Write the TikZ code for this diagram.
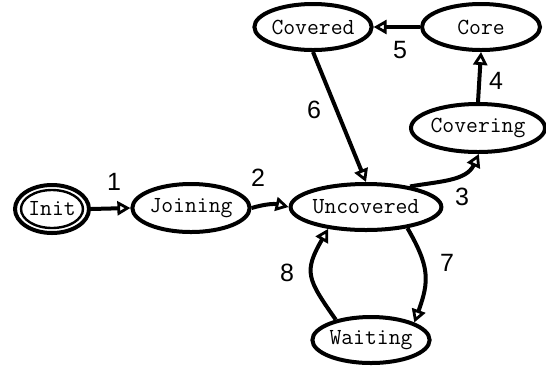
\documentclass[tikz,border=0pt]{standalone}
\usepackage{fontspec}
\setmainfont{Liberation Sans}
\usetikzlibrary{shapes.geometric,arrows.meta}
\begin{document}
\begin{tikzpicture}[x=1pt,y=-1pt,
  state/.style={ellipse,draw,line width=4pt,inner sep=0pt,font=\ttfamily\fontsize{23}{27}\selectfont},
  conn/.style={line width=4pt,-{Triangle[open,length=13pt,width=14pt,line width=2.8pt]}},
  lab/.style={font=\fontsize{25}{30}\selectfont}]
\useasboundingbox (0,0) rectangle (546,368);
\node[state,minimum width=74pt,minimum height=48pt] (init) at (52,209) {Init};
\draw[line width=2.4pt] (52,209) ellipse [x radius=31pt,y radius=19pt];
\node[state,minimum width=92pt,minimum height=48pt] (join) at (191,208) {Joining};
\node[state,minimum width=138pt,minimum height=46pt] (unc) at (366,207) {Uncovered};
\node[state,minimum width=116pt,minimum height=46pt] (cov) at (313,27) {Covered};
\node[state,minimum width=118pt,minimum height=46pt] (core) at (481,27) {Core};
\node[state,minimum width=112pt,minimum height=48pt] (cvg) at (478,128) {Covering};
\node[state,minimum width=112pt,minimum height=46pt] (wait) at (371,340) {Waiting};
\draw[conn] (init.east) -- (join.west);
\draw[conn] (join.east) to[bend left=15] (unc.west);
\draw[conn] (unc.25) to[out=10,in=245] (cvg.-88);
\draw[conn] (cvg.north) -- (core.south);
\draw[conn] (core.west) -- (cov.east);
\draw[conn] (cov.south) -- (unc.north);
\draw[conn] (unc.-27) to[out=-60,in=70,looseness=1.2] (wait.22);
\draw[conn] (wait.150) to[out=125,in=240,looseness=1.4] (unc.-150);
\node[lab] (l1) at (114,182) {1};
\node[lab] (l2) at (258,178) {2};
\node[lab] (l3) at (462,197) {3};
\node[lab] (l4) at (496,81) {4};
\node[lab] (l5) at (400,50) {5};
\node[lab] (l6) at (314,110) {6};
\node[lab] (l7) at (447,263) {7};
\node[lab] (l8) at (287,273) {8};
\end{tikzpicture}
\end{document}
